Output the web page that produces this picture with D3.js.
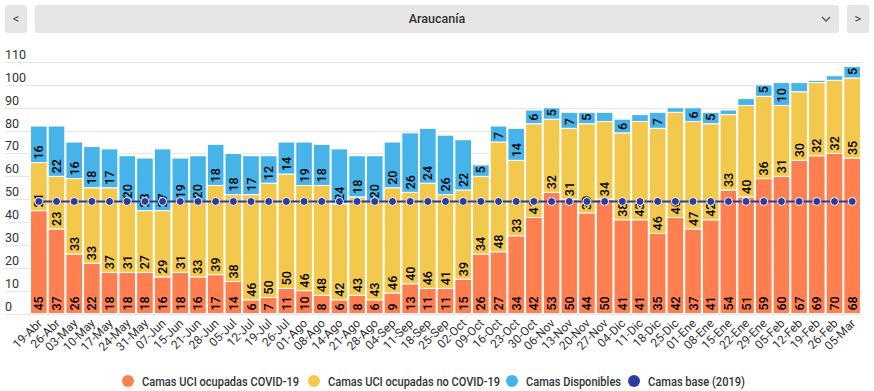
<!DOCTYPE html>
<html><head><meta charset="utf-8">
<script src="https://cdn.jsdelivr.net/npm/d3@7"></script>
<style>
html,body{margin:0;padding:0;background:#fff;}
svg{display:block;font-family:Roboto,"Noto Sans",sans-serif;}
</style></head><body>
<svg id="c" width="874" height="391"></svg>
<script>
const categories = ["19-Abr","26-Abr","03-May","10-May","17-May","24-May","31-May","07-Jun","15-Jun","21-Jun","28-Jun","05-Jul","12-Jul","19-Jul","26-Jul","01-Ago","08-Ago","14-Ago","21-Ago","28-Ago","04-Sep","11-Sep","18-Sep","25-Sep","02-Oct","09-Oct","16-Oct","23-Oct","30-Oct","06-Nov","13-Nov","20-Nov","27-Nov","04-Dic","11-Dic","18-Dic","25-Dic","01-Ene","08-Ene","15-Ene","22-Ene","29-Ene","05-Feb","12-Feb","19-Feb","26-Feb","05-Mar"];
const covid    = [45,37,26,22,18,18,18,16,18,16,17,14,6,7,11,10,8,6,8,6,9,13,11,11,15,26,27,34,42,53,50,44,50,41,41,35,42,37,41,54,51,59,60,67,69,70,68];
const noCovid  = [21,23,33,33,37,31,27,29,31,33,39,38,46,50,50,46,48,42,43,43,46,40,46,41,39,34,48,33,41,32,31,39,34,38,43,46,46,47,42,33,40,36,31,30,32,32,35];
const disponib = [16,22,16,18,17,20,23,27,19,20,18,18,17,12,14,19,18,24,18,20,20,26,24,26,22,5,7,14,6,5,7,5,4,6,3,7,2,6,5,2,3,5,10,4,1,2,5];
const base2019 = categories.map(() => 49);
const yTicks = [0,10,20,30,40,50,60,70,80,90,100,110];
const seriesNames = ["Camas UCI ocupadas COVID-19","Camas UCI ocupadas no COVID-19","Camas Disponibles","Camas base (2019)"];
const colors = ["#ff7f50","#f2c94c","#46b4e8","#2e3b9c"];
const regionName = "Araucanía";

const svg = d3.select("#c");

// top controls
function btn(x, w, txt){
  svg.append("rect").attr("x",x).attr("y",5).attr("width",w).attr("height",28).attr("rx",3).attr("fill","#e6e6e6");
  if (txt) svg.append("text").attr("x",x+w/2).attr("y",23).attr("text-anchor","middle")
     .attr("font-size",13).attr("fill","#444").text(txt);
}
btn(5,22,"<");
btn(35,804,null);
btn(847,22,">");
svg.append("text").attr("x",437).attr("y",23).attr("text-anchor","middle").attr("font-size",12.5)
   .attr("font-weight",500).attr("fill","#333").text(regionName);
svg.append("path").attr("d","M822,17 L826,21 L830,17").attr("fill","none").attr("stroke","#555").attr("stroke-width",1.3);

const x = d3.scaleBand().domain(categories).range([30,861]).paddingInner(0.06).paddingOuter(0.03);
const y = d3.scaleLinear().domain([0,110]).range([313.5,62]);

// gridlines
svg.append("g").selectAll("line").data(yTicks).join("line")
  .attr("x1",5).attr("x2",862).attr("y1",d=>Math.round(y(d))+0.5).attr("y2",d=>Math.round(y(d))+0.5)
  .attr("stroke","#e6e6e6").attr("stroke-width",1);
svg.append("g").selectAll("text").data(yTicks).join("text")
  .attr("x",5).attr("y",d=>y(d)-3).attr("font-size",12.5).attr("fill","#333").text(d=>d);

// stacked data
const rows = categories.map((c,i)=>({cat:c, covid:covid[i], noCovid:noCovid[i], disp:disponib[i]}));
const keys = ["covid","noCovid","disp"];
const stack = d3.stack().keys(keys)(rows);

const gBars = svg.append("g");
stack.forEach((layer,k)=>{
  gBars.append("g").selectAll("rect").data(layer).join("rect")
    .attr("x",d=>x(d.data.cat)).attr("width",x.bandwidth())
    .attr("y",d=>y(d[1])).attr("height",d=>y(d[0])-y(d[1]))
    .attr("fill",colors[k]).attr("stroke","#fff").attr("stroke-width",1);
});
// data labels
const gLab = svg.append("g");
stack.forEach((layer,k)=>{
  layer.forEach(d=>{
    const v = d[1]-d[0];
    const h = y(d[0])-y(d[1]);
    const len = String(v).length*6.8;
    if (len + 3 > h) return;
    gLab.append("text")
      .attr("transform",`translate(${x(d.data.cat)+x.bandwidth()/2},${y(d[0])-3}) rotate(-90)`)
      .attr("dy","0.36em").attr("font-size",12.5).attr("fill","#000").attr("font-weight",500)
      .text(v);
  });
});

// base line
const line = d3.line().x((d,i)=>x(categories[i])+x.bandwidth()/2).y(d=>y(d));
svg.append("path").attr("d",line(base2019)).attr("fill","none").attr("stroke",colors[3]).attr("stroke-width",2);
svg.append("g").selectAll("circle").data(base2019).join("circle")
  .attr("cx",(d,i)=>x(categories[i])+x.bandwidth()/2).attr("cy",d=>y(d)).attr("r",4)
  .attr("fill",colors[3]).attr("stroke","#fff").attr("stroke-width",1);

// x labels
svg.append("g").selectAll("text").data(categories).join("text")
  .attr("transform",c=>`translate(${x(c)+x.bandwidth()/2+4},${324}) rotate(-45)`)
  .attr("text-anchor","end").attr("font-size",12).attr("fill","#333").text(c=>c);

// legend
const legendX = [128,314,512,634];
const legendW = [157,172,95,97];
const lg = svg.append("g");
seriesNames.forEach((n,i)=>{
  lg.append("circle").attr("cx",legendX[i]).attr("cy",381).attr("r",6).attr("fill",colors[i]);
  lg.append("text").attr("x",legendX[i]+14).attr("y",385.5).attr("font-size",13)
    .attr("font-weight",500).attr("fill","#333")
    .attr("textLength",legendW[i]).attr("lengthAdjust","spacingAndGlyphs").text(n);
});
</script>
</body></html>
